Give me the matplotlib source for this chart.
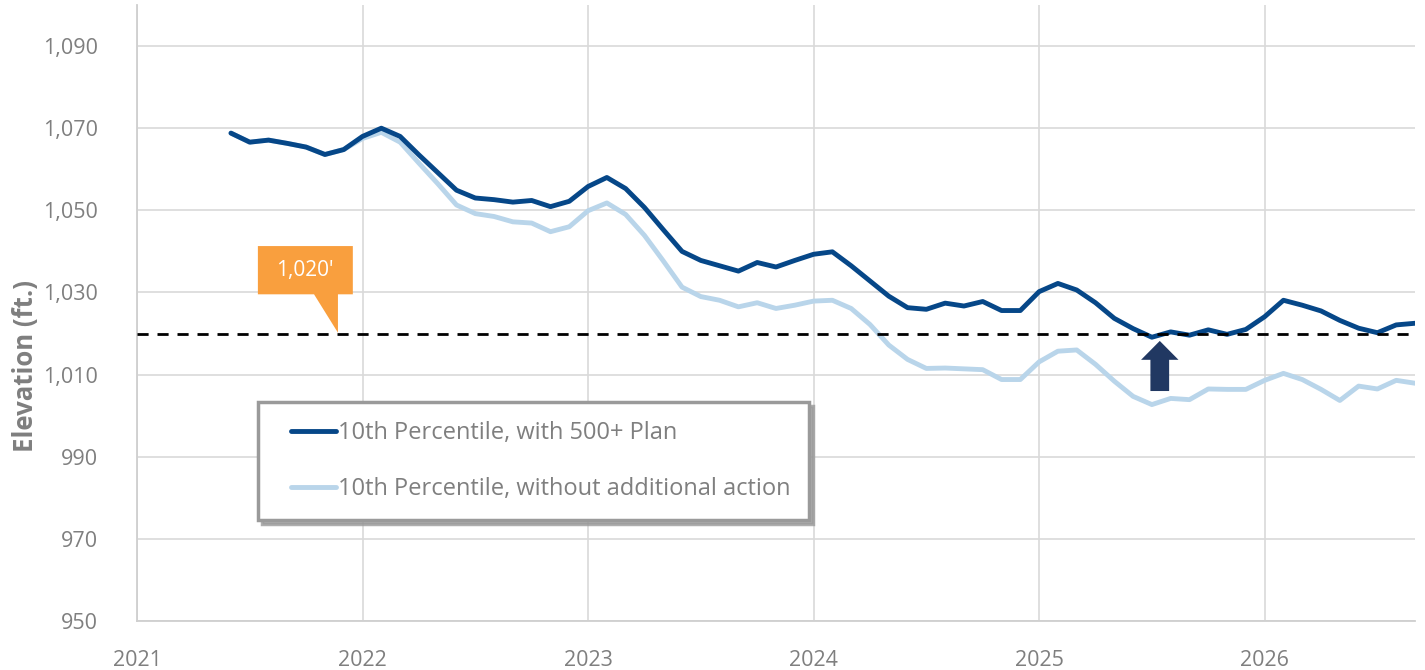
import numpy as np
import pandas as pd
import matplotlib
matplotlib.use("Agg")
from matplotlib import pyplot as plt
from matplotlib.patches import Polygon, FancyArrow
from matplotlib.legend_handler import HandlerLine2D

# monthly 10th percentile elevations, Jun 2021 - Sep 2026
months = pd.date_range("2021-06-01", "2026-09-01", freq="MS")

with_plan = [
    1068.8, 1066.6, 1067.1, 1066.3, 1065.4, 1063.6, 1064.8,
    1068.0, 1070.0, 1068.0, 1063.5, 1059.2, 1054.9, 1053.0, 1052.6, 1052.0, 1052.4, 1050.9, 1052.2,
    1055.8, 1058.0, 1055.3, 1050.7, 1045.3, 1040.0, 1037.8, 1036.5, 1035.2, 1037.3, 1036.2, 1037.8,
    1039.3, 1039.9, 1036.5, 1032.8, 1029.1, 1026.3, 1025.9, 1027.4, 1026.7, 1027.8, 1025.6, 1025.6,
    1030.2, 1032.2, 1030.6, 1027.5, 1023.7, 1021.2, 1019.1, 1020.4, 1019.6, 1020.9, 1019.8, 1021.0,
    1024.1, 1028.1, 1026.9, 1025.5, 1023.2, 1021.3, 1020.2, 1022.1, 1022.5,
]

without_action = [
    1068.8, 1066.6, 1067.1, 1066.3, 1065.4, 1063.6, 1064.8,
    1067.5, 1069.0, 1066.6, 1061.5, 1056.5, 1051.3, 1049.2, 1048.5, 1047.2, 1046.9, 1044.8, 1046.0,
    1049.9, 1051.8, 1049.0, 1043.9, 1037.7, 1031.3, 1029.0, 1028.1, 1026.5, 1027.5, 1026.1, 1026.9,
    1027.9, 1028.1, 1026.1, 1022.2, 1017.2, 1013.7, 1011.5, 1011.6, 1011.4, 1011.2, 1008.8, 1008.8,
    1013.1, 1015.7, 1016.0, 1012.5, 1008.4, 1004.7, 1002.7, 1004.2, 1003.9, 1006.5, 1006.4, 1006.4,
    1008.6, 1010.3, 1008.8, 1006.4, 1003.7, 1007.2, 1006.5, 1008.6, 1007.9,
]

labels = ["10th Percentile, with 500+ Plan", "10th Percentile, without additional action"]
threshold = 1020
yticks = [950, 970, 990, 1010, 1030, 1050, 1070, 1090]
years = [2021, 2022, 2023, 2024, 2025, 2026]

DARK = "#064788"
LIGHT = "#b9d5ea"
ORANGE = "#f99f3e"
GREY = "#7f7f7f"
FONT = ["Open Sans", "DejaVu Sans"]

x = months.year + (months.month - 1) / 12.0

fig = plt.figure(figsize=(14.25, 6.7), dpi=100)
ax = fig.add_axes([137 / 1425, 1 - 621 / 670, (1415 - 137) / 1425, (621 - 5) / 670])

ax.plot(x, without_action, color=LIGHT, lw=3.5, label=labels[1], solid_capstyle="round")
ax.plot(x, with_plan, color=DARK, lw=3.5, label=labels[0], solid_capstyle="round")
ax.axhline(threshold, color="black", lw=2, ls=(0, (4, 3.2)), zorder=3)

ax.set_xlim(2021, x[-1])
ax.set_ylim(950, 1100)
ax.set_xticks(years)
ax.set_xticklabels([str(y) for y in years])
ax.set_yticks(yticks)
ax.set_yticklabels([f"{v:,}" for v in yticks])
ax.tick_params(length=0, labelsize=15.5, labelcolor=GREY, pad=28)
ax.tick_params(axis="x", pad=21)
for lab in ax.get_xticklabels() + ax.get_yticklabels():
    lab.set_family(FONT)
ax.grid(True, color="#d9d9d9", lw=1.2)
ax.set_axisbelow(True)
for s in ["top", "right"]:
    ax.spines[s].set_visible(False)
for s in ["left", "bottom"]:
    ax.spines[s].set_color("#cfcfcf")
    ax.spines[s].set_linewidth(1.3)

fig.text(26 / 1425, 1 - 366 / 670, "Elevation (ft.)", rotation=90, ha="center", va="center",
         fontsize=18.5, fontweight="bold", color=GREY, family=FONT)

# orange callout for the 1,020' line
box = [(2021.536, 1041.3), (2021.957, 1041.3), (2021.957, 1029.55), (2021.891, 1029.55),
       (2021.891, 1020.2), (2021.785, 1029.55), (2021.536, 1029.55)]
ax.add_patch(Polygon(box, closed=True, facecolor=ORANGE, edgecolor="none", zorder=4))
ax.text(2021.746, 1035.4, "1,020'", color="white", fontsize=15, ha="center", va="center",
        family=["Open Sans", "DejaVu Sans"], zorder=5)

# up arrow
ax.add_patch(FancyArrow(2025.535, 1006.0, 0, 12.2, width=0.083, head_width=0.166,
                        head_length=4.6, length_includes_head=True,
                        facecolor="#213862", edgecolor="none", zorder=5))

handles, labs = ax.get_legend_handles_labels()
leg = ax.legend(handles[::-1], labs[::-1], loc="upper left",
                bbox_to_anchor=(258 / 1425, 1 - 402 / 670), bbox_transform=fig.transFigure,
                prop={"family": FONT, "size": 17}, labelcolor=GREY,
                frameon=True, fancybox=False, edgecolor="#9a9a9a",
                shadow={"color": "#9a9a9a", "alpha": 0.8, "ox": 3, "oy": -3},
                borderpad=0.8, labelspacing=1.35, handlelength=2.5, handletextpad=0.08,
                borderaxespad=0, handler_map={h: HandlerLine2D(xpad=0.6) for h in handles})
leg.get_frame().set_linewidth(2.5)
leg.set_zorder(6)

fig.savefig("out.png", dpi=100)
